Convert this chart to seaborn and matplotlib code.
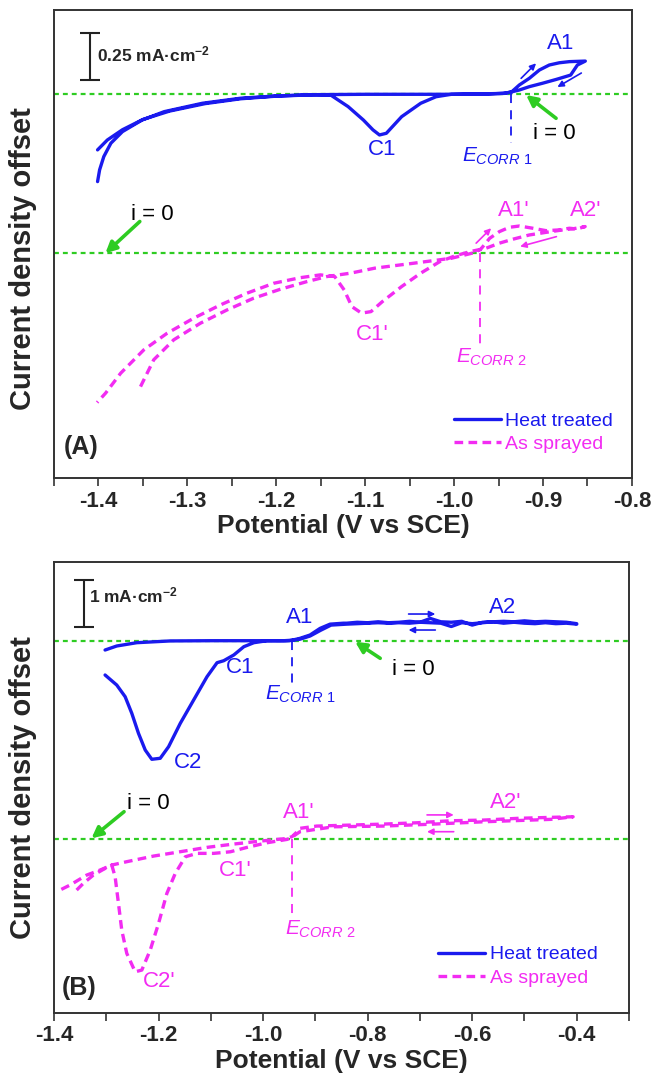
import numpy as np
import pandas as pd
import matplotlib
matplotlib.use("Agg")
import matplotlib.pyplot as plt
from matplotlib.ticker import MultipleLocator, FormatStrFormatter
import seaborn as sns

# ---------------- data (panel A) ----------------
# Heat treated, panel A (mA/cm^2, zero line at 0)
ht_a_x = [-1.401, -1.3987, -1.394, -1.386, -1.373, -1.351, -1.326, -1.283, -1.240, -1.197, -1.155,
          -1.10, -1.00, -0.96, -0.945, -0.9355, -0.9266, -0.9153, -0.9041, -0.8929, -0.8816, -0.8704,
          -0.8524, -0.8613, -0.8689, -0.8849, -0.9007, -0.9153, -0.9266, -0.9344, -0.943, -0.97,
          -1.003, -1.0203, -1.0375, -1.059, -1.0762, -1.0839, -1.0912, -1.102, -1.1192, -1.1385,
          -1.16, -1.20, -1.24, -1.28, -1.32, -1.35, -1.373, -1.390, -1.401]
ht_a_y = [-0.468, -0.405, -0.334, -0.262, -0.200, -0.138, -0.093, -0.048, -0.021, -0.008, -0.002,
          0.0, 0.0, 0.002, 0.005, 0.012, 0.050, 0.086, 0.130, 0.157, 0.169, 0.175,
          0.178, 0.157, 0.103, 0.080, 0.059, 0.041, 0.023, 0.014, 0.005, 0.002,
          0.0, -0.013, -0.048, -0.120, -0.209, -0.218, -0.191, -0.138, -0.066, -0.005,
          -0.003, -0.010, -0.024, -0.050, -0.090, -0.135, -0.190, -0.245, -0.298]

# As sprayed, panel A (relative to its own zero line)
as_a_x = [-1.3527, -1.3378, -1.3153, -1.2853, -1.2554, -1.2254, -1.1954, -1.1655, -1.143, -1.1167,
          -1.0892, -1.0462, -1.0032, -0.9774, -0.9703, -0.9600, -0.949, -0.9378, -0.9265, -0.9116,
          -0.8965, -0.8816, -0.8703, -0.862, -0.8526, -0.865, -0.8779, -0.8965, -0.9153, -0.934,
          -0.949, -0.964, -0.9817, -0.9989, -1.0161, -1.0376, -1.0591, -1.0806, -1.0935, -1.1042,
          -1.115, -1.1236, -1.1343, -1.1505, -1.1729, -1.2029, -1.2329, -1.2628, -1.2928, -1.3228,
          -1.349, -1.375, -1.392, -1.4015]
as_a_y = [-0.715, -0.571, -0.464, -0.375, -0.304, -0.241, -0.193, -0.152, -0.125, -0.107,
          -0.080, -0.054, -0.027, 0.003, 0.020, 0.080, 0.116, 0.139, 0.146, 0.134,
          0.121, 0.125, 0.134, 0.130, 0.143, 0.132, 0.125, 0.112, 0.098, 0.075,
          0.054, 0.027, 0.009, -0.014, -0.045, -0.107, -0.179, -0.259, -0.313, -0.321,
          -0.286, -0.197, -0.125, -0.116, -0.131, -0.161, -0.214, -0.277, -0.348, -0.429,
          -0.518, -0.643, -0.750, -0.800]
as_a_offset = -0.852
ecorr_a = [-0.9355, -0.9703]

# ---------------- data (panel B) ----------------
ht_b_x1 = [-1.3023, -1.28, -1.2416, -1.1776, -1.10, -1.0, -0.96, -0.945, -0.9294, -0.9103,
           -0.8911, -0.8719, -0.8464]
ht_b_y1 = [-0.197, -0.112, -0.042, -0.005, 0.0, 0.0, 0.0, 0.01, 0.05, 0.12,
           0.26, 0.35, 0.37]
plateau_x = [-0.84, -0.82, -0.80, -0.78, -0.76, -0.74, -0.72, -0.70, -0.68, -0.66, -0.64, -0.62,
             -0.60, -0.58, -0.56, -0.54, -0.52, -0.50, -0.48, -0.46, -0.44, -0.42, -0.40]
plateau_fwd = [0.37, 0.39, 0.38, 0.40, 0.38, 0.39, 0.41, 0.39, 0.47, 0.40, 0.39, 0.41,
               0.33, 0.39, 0.40, 0.41, 0.40, 0.42, 0.40, 0.41, 0.40, 0.39, 0.36]
plateau_rev = [0.35, 0.37, 0.36, 0.38, 0.36, 0.37, 0.39, 0.37, 0.40, 0.38, 0.36, 0.38,
               0.30, 0.37, 0.38, 0.39, 0.37, 0.38, 0.37, 0.38, 0.37, 0.36, 0.35]
ht_b_x2 = [-0.87, -0.89, -0.91, -0.93, -0.95, -0.9922, -1.0177, -1.0369, -1.0561, -1.0753,
           -1.0881, -1.1073, -1.1329, -1.1584, -1.1808, -1.1968, -1.2129, -1.2255, -1.2384,
           -1.2512, -1.2639, -1.28, -1.3023]
ht_b_y2 = [0.33, 0.22, 0.10, 0.03, 0.0, 0.0, -0.042, -0.127, -0.302, -0.423,
           -0.465, -0.761, -1.254, -1.746, -2.241, -2.486, -2.507, -2.311, -1.958,
           -1.535, -1.184, -0.937, -0.725]

as_b_x = [-1.3567, -1.3439, -1.3247, -1.3055, -1.2895, -1.2608, -1.2096, -1.1584, -1.1073, -1.0561,
          -1.0049, -0.9539, -0.9443, -0.935, -0.9297, -0.8975, -0.8336, -0.7696, -0.7057, -0.6417,
          -0.5778, -0.5138, -0.4499, -0.407, -0.4499, -0.5778, -0.6738, -0.7696, -0.8656, -0.9297,
          -0.9443, -0.9539, -0.9922, -1.0306, -1.0625, -1.0945, -1.1265, -1.1488, -1.168, -1.1841,
          -1.20, -1.2159, -1.232, -1.2447, -1.2608, -1.2704, -1.2767, -1.2831, -1.2895, -1.3119,
          -1.3375, -1.3694, -1.3951]
as_b_y = [-1.072, -0.93, -0.755, -0.634, -0.543, -0.472, -0.353, -0.261, -0.169, -0.099,
          -0.036, 0.02, 0.06, 0.16, 0.233, 0.281, 0.302, 0.323, 0.351, 0.393,
          0.408, 0.444, 0.465, 0.478, 0.423, 0.372, 0.323, 0.281, 0.266, 0.161,
          0.05, 0.0, -0.071, -0.169, -0.262, -0.296, -0.296, -0.368, -0.719, -1.142,
          -1.776, -2.34, -2.763, -2.80, -2.41, -1.918, -1.353, -0.79, -0.543, -0.649,
          -0.755, -0.966, -1.108]
as_b_offset = -4.20
ecorr_b = [-0.9443, -0.9443]

legend_labels = ["Heat treated", "As sprayed"]

# ---------------- style ----------------
sns.set_style("white")
plt.rcParams["font.family"] = ["Liberation Sans", "DejaVu Sans"]
plt.rcParams["mathtext.fontset"] = "custom"
plt.rcParams["mathtext.rm"] = "Liberation Sans"
plt.rcParams["mathtext.it"] = "Liberation Sans:italic"
plt.rcParams["mathtext.bf"] = "Liberation Sans:bold"

BLUE = "#1a1aee"
MAG = "#f22cf2"
GREEN = "#2ecc22"
DASH = (0, (2.6, 1.6))
LBL = 16

fig = plt.figure(figsize=(6.53, 10.82), dpi=100)
axA = fig.add_axes([0.0827, 0.5582, 0.885, 0.4325])
axB = fig.add_axes([0.0827, 0.0638, 0.8806, 0.4168])


def style_axes(ax, xlim, ylim, major, minor, label_x, label_y):
    ax.set_xlim(*xlim)
    ax.set_ylim(*ylim)
    ax.xaxis.set_major_locator(MultipleLocator(major))
    ax.xaxis.set_minor_locator(MultipleLocator(minor))
    ax.xaxis.set_major_formatter(FormatStrFormatter("%.1f"))
    ax.set_yticks([])
    ax.tick_params(axis="x", which="both", bottom=True, top=False, direction="out",
                   length=6, width=1.2, color="#333333", pad=3)
    for lab in ax.get_xticklabels():
        lab.set_fontweight("bold")
        lab.set_fontsize(16)
    for sp in ax.spines.values():
        sp.set_color("#333333")
        sp.set_linewidth(1.4)
    ax.set_xlabel("Potential (V vs SCE)", fontsize=19, fontweight="bold", labelpad=2)
    ax.set_ylabel("Current density offset", fontsize=21, fontweight="bold")
    ax.yaxis.set_label_coords(label_x, label_y)


def arrow(ax, tail, head, color, lw=1.2, ms=9):
    ax.annotate("", xy=head, xytext=tail,
                arrowprops=dict(arrowstyle="-|>", color=color, lw=lw, mutation_scale=ms,
                                shrinkA=0, shrinkB=0))


# ---------------- panel A ----------------
axA.axhline(0, color=GREEN, lw=1.6, ls=(0, (2.2, 1.8)), zorder=1)
axA.axhline(as_a_offset, color=GREEN, lw=1.6, ls=(0, (2.2, 1.8)), zorder=1)
sns.lineplot(x=ht_a_x, y=ht_a_y, sort=False, estimator=None, ax=axA, color=BLUE, lw=2.4,
             label=legend_labels[0], zorder=3)
sns.lineplot(x=as_a_x, y=np.array(as_a_y) + as_a_offset, sort=False, estimator=None, ax=axA,
             color=MAG, lw=2.4, linestyle=DASH, label=legend_labels[1], zorder=3)
axA.plot([ecorr_a[0], ecorr_a[0]], [0, -0.262], color=BLUE, lw=1.3, ls=(0, (5, 4)))
axA.plot([ecorr_a[1], ecorr_a[1]], [as_a_offset, -1.359], color=MAG, lw=1.3, ls=(0, (5, 4)))

axA.errorbar([-1.4094], [0.2017], yerr=[0.125], color="#222222", lw=1.5, capsize=7, capthick=1.5)
axA.text(-1.4021, 0.215, "0.25 mA·cm$^{\\mathbf{-2}}$", fontsize=12.5, fontweight="bold",
         ha="left", va="center")
axA.text(-0.8804, 0.272, "A1", color=BLUE, fontsize=LBL, ha="center", va="center")
axA.text(-1.0815, -0.298, "C1", color=BLUE, fontsize=LBL, ha="center", va="center")
axA.text(-0.9906, -0.363, r"$\mathit{E}_{\mathit{CORR\ 1}}$", color=BLUE, fontsize=15,
         ha="left", va="baseline")
axA.text(-0.8872, -0.208, "i = 0", color="black", fontsize=LBL, ha="center", va="center")
axA.text(-0.9333, -0.625, "A1'", color=MAG, fontsize=LBL, ha="center", va="center")
axA.text(-0.8524, -0.625, "A2'", color=MAG, fontsize=LBL, ha="center", va="center")
axA.text(-1.0917, -1.289, "C1'", color=MAG, fontsize=LBL, ha="center", va="center")
axA.text(-0.9984, -1.439, r"$\mathit{E}_{\mathit{CORR\ 2}}$", color=MAG, fontsize=15,
         ha="left", va="baseline")
axA.text(-1.3389, -0.647, "i = 0", color="black", fontsize=LBL, ha="center", va="center")
axA.text(-1.4198, -1.889, "(A)", fontsize=18, fontweight="bold", ha="center", va="center")

arrow(axA, (-0.8853, -0.1286), (-0.919, -0.0037), GREEN, lw=2.6, ms=16)
arrow(axA, (-1.3535, -0.682), (-1.3922, -0.852), GREEN, lw=2.6, ms=16)
arrow(axA, (-0.9246, 0.0857), (-0.9078, 0.166), BLUE)
arrow(axA, (-0.8569, 0.114), (-0.8838, 0.039), BLUE)
arrow(axA, (-0.9752, -0.798), (-0.9583, -0.718), MAG)
arrow(axA, (-0.8849, -0.763), (-0.9257, -0.816), MAG)

style_axes(axA, (-1.45, -0.8), (-2.057, 0.4515), 0.1, 0.05, -0.029, 0.47)
axA.legend(loc="upper left", bbox_to_anchor=(0.692, 0.141), frameon=False, fontsize=14,
           handlelength=2.4, handletextpad=0.25, labelspacing=0.3, borderpad=0,
           borderaxespad=0, labelcolor="linecolor")

# ---------------- panel B ----------------
ht_b_x = ht_b_x1 + plateau_x + plateau_x[::-1] + ht_b_x2
ht_b_y = ht_b_y1 + plateau_fwd + plateau_rev + ht_b_y2
axB.axhline(0, color=GREEN, lw=1.6, ls=(0, (2.2, 1.8)), zorder=1)
axB.axhline(as_b_offset, color=GREEN, lw=1.6, ls=(0, (2.2, 1.8)), zorder=1)
sns.lineplot(x=ht_b_x, y=ht_b_y, sort=False, estimator=None, ax=axB, color=BLUE, lw=2.4,
             label=legend_labels[0], zorder=3)
sns.lineplot(x=as_b_x, y=np.array(as_b_y) + as_b_offset, sort=False, estimator=None, ax=axB,
             color=MAG, lw=2.4, linestyle=DASH, label=legend_labels[1], zorder=3)
axB.plot([ecorr_b[0], ecorr_b[0]], [0, -1.0], color=BLUE, lw=1.3, ls=(0, (5, 4)))
axB.plot([ecorr_b[1], ecorr_b[1]], [as_b_offset, -5.835], color=MAG, lw=1.3, ls=(0, (5, 4)))

axB.errorbar([-1.3431], [0.783], yerr=[0.5], color="#222222", lw=1.5, capsize=7, capthick=1.5)
axB.text(-1.3324, 0.95, "1 mA·cm$^{\\mathbf{-2}}$", fontsize=12.5, fontweight="bold",
         ha="left", va="center")
axB.text(-0.9295, 0.48, "A1", color=BLUE, fontsize=LBL, ha="center", va="center")
axB.text(-0.5419, 0.712, "A2", color=BLUE, fontsize=LBL, ha="center", va="center")
axB.text(-1.0446, -0.556, "C1", color=BLUE, fontsize=LBL, ha="center", va="center")
axB.text(-1.1444, -2.565, "C2", color=BLUE, fontsize=LBL, ha="center", va="center")
axB.text(-0.9966, -1.254, r"$\mathit{E}_{\mathit{CORR\ 1}}$", color=BLUE, fontsize=15,
         ha="left", va="baseline")
axB.text(-0.7126, -0.619, "i = 0", color="black", fontsize=LBL, ha="center", va="center")
axB.text(-0.9315, -3.622, "A1'", color=MAG, fontsize=LBL, ha="center", va="center")
axB.text(-0.5363, -3.41, "A2'", color=MAG, fontsize=LBL, ha="center", va="center")
axB.text(-1.0542, -4.867, "C1'", color=MAG, fontsize=LBL, ha="center", va="center")
axB.text(-1.1981, -7.214, "C2'", color=MAG, fontsize=LBL, ha="center", va="center")
axB.text(-0.9583, -6.222, r"$\mathit{E}_{\mathit{CORR\ 2}}$", color=MAG, fontsize=15,
         ha="left", va="baseline")
axB.text(-1.2201, -3.452, "i = 0", color="black", fontsize=LBL, ha="center", va="center")
axB.text(-1.3516, -7.342, "(B)", fontsize=18, fontweight="bold", ha="center", va="center")

arrow(axB, (-0.776, -0.372), (-0.824, -0.021), GREEN, lw=2.6, ms=16)
arrow(axB, (-1.266, -3.615), (-1.3283, -4.178), GREEN, lw=2.6, ms=16)
arrow(axB, (-0.7217, 0.564), (-0.6706, 0.564), BLUE)
arrow(axB, (-0.6706, 0.226), (-0.7217, 0.226), BLUE)
arrow(axB, (-0.6864, -3.683), (-0.6354, -3.683), MAG)
arrow(axB, (-0.6354, -4.038), (-0.6864, -4.038), MAG)

style_axes(axB, (-1.4, -0.3), (-7.87, 1.664), 0.2, 0.1, -0.030, 0.5)
axB.legend(loc="upper left", bbox_to_anchor=(0.668, 0.149), frameon=False, fontsize=14,
           handlelength=2.4, handletextpad=0.25, labelspacing=0.3, borderpad=0,
           borderaxespad=0, labelcolor="linecolor")

fig.savefig("out.png", dpi=100)
